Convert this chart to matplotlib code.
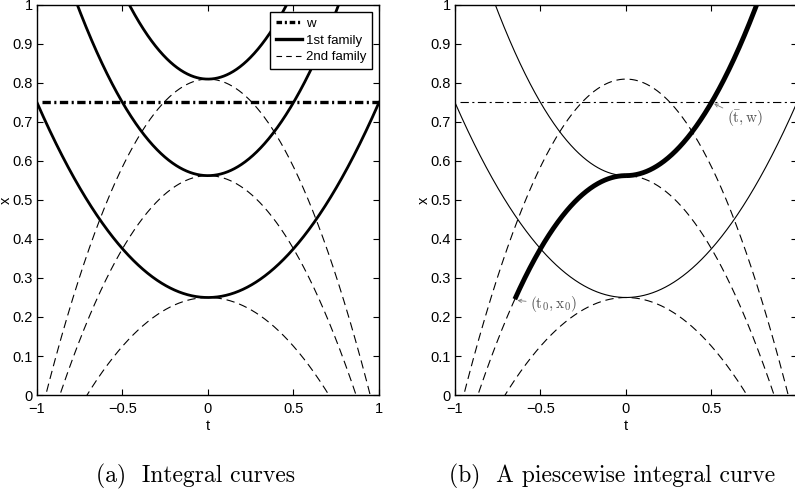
import numpy as np
import matplotlib
matplotlib.use("Agg")
import matplotlib.pyplot as plt

plt.rcParams['font.family'] = ['Liberation Sans Narrow', 'Liberation Sans', 'DejaVu Sans']
plt.rcParams['mathtext.fontset'] = 'cm'
plt.rcParams['lines.scale_dashes'] = False
plt.rcParams['axes.unicode_minus'] = True

# integral curve parameters: x = a^2 + a t^2 (1st family), x = a^2 - a t^2 (2nd family)
a_vals_a = [0.5, 0.75, 0.9]
a_thin_b = [0.5, 0.75]
a_dash_b = [0.5, 0.75, 0.9]
w = 0.75
t0 = -0.65          # start of the piecewise curve
a_piece = 0.75      # family parameter of the piecewise curve
tbar = 0.5

xticks = [-1, -0.5, 0, 0.5, 1]
xtick_labels_a = ['\u22121', '\u22120.5', '0', '0.5', '1']
xtick_labels_b = ['\u22121', '\u22120.5', '0', '0.5', '']
yticks = [0, 0.1, 0.2, 0.3, 0.4, 0.5, 0.6, 0.7, 0.8, 0.9, 1]
ytick_labels = ['0', '0.1', '0.2', '0.3', '0.4', '0.5', '0.6', '0.7', '0.8', '0.9', '1']

captions = ['(a)  Integral curves', '(b)  A piescewise integral curve']

t = np.linspace(-1, 1, 801)
dash = (6, 3.5)
dashdot_thick = (6, 2.5, 1.5, 2.5)
dashdot_thin = (6, 2.5, 1.5, 2.5)


def style_axes(ax, xlabels):
    ax.set_xlim(-1, 1)
    ax.set_ylim(0, 1)
    ax.set_xticks(xticks)
    ax.set_xticklabels(xlabels)
    ax.set_yticks(yticks)
    ax.set_yticklabels(ytick_labels)
    ax.tick_params(direction='in', top=True, right=True, length=4, width=0.8,
                   labelsize=10.5)
    ax.tick_params(axis='x', pad=5)
    ax.tick_params(axis='y', pad=3)
    for s in ax.spines.values():
        s.set_linewidth(1.0)
    ax.set_xlabel('t', fontsize=10.5, labelpad=2)
    ax.set_ylabel('x', fontsize=10.5)
    ax.yaxis.set_label_coords(-0.07, 0.5)


fig = plt.figure(figsize=(7.95, 4.94), dpi=100)
ax1 = fig.add_axes([0.0465, 0.2004, 0.4302, 0.7895])
ax2 = fig.add_axes([0.5723, 0.2004, 0.4302, 0.7895])

# ---- (a) integral curves
for a in a_vals_a:
    ax1.plot(t, a**2 - a*t**2, color='black', lw=0.8, dashes=dash)
for a in a_vals_a:
    ax1.plot(t, a**2 + a*t**2, color='black', lw=2.0)
ax1.plot([-0.97, 1], [w, w], color='black', lw=2.4, dashes=dashdot_thick)

h_w, = ax1.plot([], [], color='black', lw=2.4, dashes=(4, 2, 1.5, 2), label='w')
h_1, = ax1.plot([], [], color='black', lw=2.4, label='1st family')
h_2, = ax1.plot([], [], color='black', lw=0.8, dashes=(4, 3), label='2nd family')
leg = ax1.legend(handles=[h_w, h_1, h_2], loc='upper right', fontsize=9.5,
                 fancybox=False, framealpha=1, edgecolor='black',
                 borderaxespad=0.55, handlelength=2.0, handletextpad=0.3,
                 borderpad=0.4, labelspacing=0.35)
leg.get_frame().set_linewidth(1.0)
style_axes(ax1, xtick_labels_a)

# ---- (b) a piecewise integral curve
for a in a_dash_b:
    ax2.plot(t, a**2 - a*t**2, color='black', lw=0.8, dashes=dash)
for a in a_thin_b:
    ax2.plot(t, a**2 + a*t**2, color='black', lw=0.8)
ax2.plot([-0.97, 1], [w, w], color='black', lw=0.8, dashes=dashdot_thin)

tl = np.linspace(t0, 0, 200)
tr = np.linspace(0, 1, 400)
ax2.plot(tl, a_piece**2 - a_piece*tl**2, color='black', lw=3.5, solid_capstyle='butt')
ax2.plot(tr, a_piece**2 + a_piece*tr**2, color='black', lw=3.5, solid_capstyle='butt')

x0 = a_piece**2 - a_piece*t0**2
ax2.annotate(r'$(\mathrm{t}_0,\mathrm{x}_0)$', xy=(t0 + 0.015, x0 - 0.003),
             xytext=(t0 + 0.09, x0 - 0.013), fontsize=11, color='#555555',
             va='center', ha='left',
             arrowprops=dict(arrowstyle='->', color='#777777', lw=0.6,
                             shrinkA=1, shrinkB=0, mutation_scale=6))
ax2.annotate(r'$(\bar{\mathrm{t}},\mathrm{w})$', xy=(tbar + 0.015, w - 0.003),
             xytext=(tbar + 0.09, w - 0.042), fontsize=11, color='#555555',
             va='center', ha='left',
             arrowprops=dict(arrowstyle='->', color='#777777', lw=0.6,
                             shrinkA=1, shrinkB=0, mutation_scale=6))
style_axes(ax2, xtick_labels_b)

fig.text(0.246, 0.036, captions[0], fontsize=17, family='cmr10', ha='center', va='center')
fig.text(0.770, 0.036, captions[1], fontsize=17, family='cmr10', ha='center', va='center')

fig.savefig('out.png', dpi=100)
